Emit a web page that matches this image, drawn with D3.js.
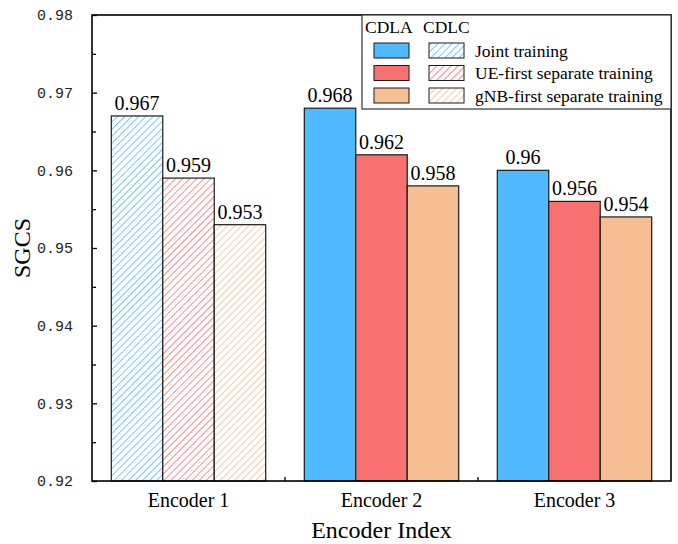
<!DOCTYPE html>
<html>
<head>
<meta charset="utf-8">
<script src="https://cdn.jsdelivr.net/npm/d3@7"></script>
<style>
  html, body { margin: 0; padding: 0; background: #fff; }
  svg { display: block; }
</style>
</head>
<body>
<svg id="chart" width="678" height="544"></svg>
<script>
// Encoder groups and the channel model used for each (CDLC = hatched, CDLA = solid)
const categories = ["Encoder 1", "Encoder 2", "Encoder 3"];
const channelModel = ["CDLC", "CDLA", "CDLA"];

// SGCS per training scheme
const seriesNames = ["Joint training", "UE-first separate training", "gNB-first separate training"];
const jointTraining = [0.967, 0.968, 0.96];
const ueFirst = [0.959, 0.962, 0.956];
const gnbFirst = [0.953, 0.958, 0.954];
const seriesValues = [jointTraining, ueFirst, gnbFirst];
const seriesColors = ["#4fbaff", "#f87171", "#f6be93"];

// Axis ticks
const yMajorTicks = [0.92, 0.93, 0.94, 0.95, 0.96, 0.97, 0.98];
const yMinorTicks = [0.925, 0.935, 0.945, 0.955, 0.965, 0.975];
const yDomain = [0.92, 0.98];

const svg = d3.select("#chart");
const margin = { left: 92, right: 7, top: 15, bottom: 63 };
const W = 678, H = 544;
const x0 = margin.left, x1 = W - margin.right;
const y0 = H - margin.bottom, y1 = margin.top;

const x = d3.scaleBand().domain(categories).range([x0, x1]).paddingInner(0.2).paddingOuter(0.1);
const xs = d3.scaleBand().domain(d3.range(seriesNames.length)).range([0, x.bandwidth()]);
const y = d3.scaleLinear().domain(yDomain).range([y0, y1]);

// Hatch patterns, one per series colour
const defs = svg.append("defs");
seriesColors.forEach((c, i) => {
  const p = defs.append("pattern")
    .attr("id", "hatch" + i)
    .attr("patternUnits", "userSpaceOnUse")
    .attr("width", 5).attr("height", 5)
    .attr("patternTransform", "rotate(45)");
  p.append("rect").attr("width", 5).attr("height", 5).attr("fill", "#fff");
  p.append("line").attr("x1", 0).attr("y1", 0).attr("x2", 0).attr("y2", 5)
    .attr("stroke", c).attr("stroke-width", 1.6);
});

const serif = "'Liberation Serif', 'Times New Roman', serif";

// Bars
const rows = [];
categories.forEach((cat, ci) => {
  seriesValues.forEach((vals, si) => {
    rows.push({ cat, ci, si, v: vals[ci] });
  });
});

svg.append("g").selectAll("rect").data(rows).join("rect")
  .attr("x", d => x(d.cat) + xs(d.si))
  .attr("y", d => y(d.v))
  .attr("width", xs.bandwidth())
  .attr("height", d => y0 - y(d.v))
  .attr("fill", d => channelModel[d.ci] === "CDLC" ? `url(#hatch${d.si})` : seriesColors[d.si])
  .attr("stroke", "#1a1a1a")
  .attr("stroke-width", 1.2);

// Value labels above bars
svg.append("g").selectAll("text").data(rows).join("text")
  .attr("x", d => x(d.cat) + xs(d.si) + xs.bandwidth() / 2)
  .attr("y", d => y(d.v) - 6)
  .attr("text-anchor", "middle")
  .attr("font-family", serif)
  .attr("font-size", 20)
  .attr("fill", "#000")
  .text(d => String(d.v));

// Y axis: inward ticks, labels on the left
const yAxis = d3.axisLeft(y).tickValues(yMajorTicks).tickSize(-5).tickPadding(19)
  .tickFormat(d3.format(".2f"));
const gy = svg.append("g").attr("transform", `translate(${x0},0)`).call(yAxis);
gy.select(".domain").remove();
gy.selectAll(".tick line").attr("stroke", "#000").attr("stroke-width", 1.3);
gy.selectAll(".tick text")
  .attr("font-family", "'Liberation Mono', monospace")
  .attr("font-size", 15)
  .attr("fill", "#222");
const gyMinor = svg.append("g").attr("transform", `translate(${x0},0)`)
  .call(d3.axisLeft(y).tickValues(yMinorTicks).tickSize(-4).tickFormat(""));
gyMinor.select(".domain").remove();
gyMinor.selectAll(".tick line").attr("stroke", "#000").attr("stroke-width", 1.3);

// X axis: category labels, small inward ticks between groups
const gx = svg.append("g").attr("transform", `translate(0,${y0})`)
  .call(d3.axisBottom(x).tickSize(0).tickPadding(12));
gx.select(".domain").remove();
gx.selectAll(".tick text").attr("font-family", serif).attr("font-size", 20).attr("fill", "#000");
const sepTicks = categories.slice(1).map(c => x(c) - x.step() * x.paddingInner() / 2);
svg.append("g").selectAll("line").data(sepTicks).join("line")
  .attr("x1", d => d).attr("x2", d => d)
  .attr("y1", y0).attr("y2", y0 - 4)
  .attr("stroke", "#000").attr("stroke-width", 1.3);

// Frame
svg.append("rect")
  .attr("x", x0).attr("y", y1).attr("width", x1 - x0).attr("height", y0 - y1)
  .attr("fill", "none").attr("stroke", "#000").attr("stroke-width", 1.6);

// Axis titles
svg.append("text")
  .attr("x", (x0 + x1) / 2).attr("y", 538)
  .attr("text-anchor", "middle")
  .attr("font-family", serif).attr("font-size", 24)
  .text("Encoder Index");
svg.append("text")
  .attr("transform", `translate(30,${(y0 + y1) / 2}) rotate(-90)`)
  .attr("text-anchor", "middle")
  .attr("font-family", serif).attr("font-size", 24)
  .text("SGCS");

// Legend
const lg = svg.append("g");
const lgX = 362, lgY = y1, lgW = x1 - 362, lgH = 94;
lg.append("rect").attr("x", lgX).attr("y", lgY).attr("width", lgW).attr("height", lgH)
  .attr("fill", "#fff").attr("stroke", "#333").attr("stroke-width", 1.2);
const headers = ["CDLA", "CDLC"];
headers.forEach((h, i) => {
  lg.append("text").attr("x", 365 + i * 58).attr("y", lgY + 18)
    .attr("font-family", serif).attr("font-size", 17.5).text(h);
});
seriesNames.forEach((name, i) => {
  const ry = lgY + 28 + i * 22.5;
  lg.append("rect").attr("x", 374).attr("y", ry).attr("width", 35).attr("height", 15)
    .attr("fill", seriesColors[i]).attr("stroke", "#1a1a1a").attr("stroke-width", 1);
  lg.append("rect").attr("x", 429).attr("y", ry).attr("width", 35).attr("height", 15)
    .attr("fill", `url(#hatch${i})`).attr("stroke", "#1a1a1a").attr("stroke-width", 1);
  lg.append("text").attr("x", 475).attr("y", ry + 13.5)
    .attr("font-family", serif).attr("font-size", 17.5).text(name);
});
</script>
</body>
</html>
